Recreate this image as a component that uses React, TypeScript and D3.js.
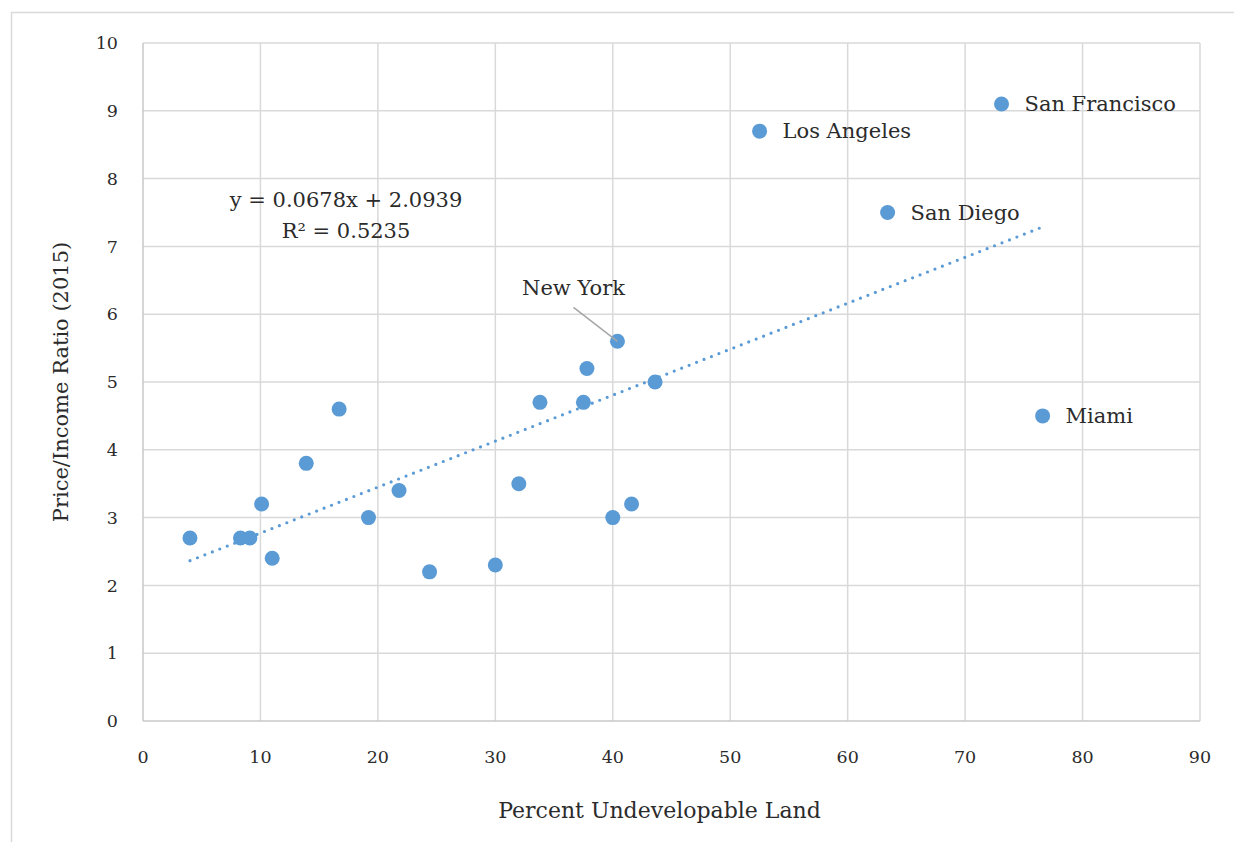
import { useEffect, useRef } from "react";
import * as d3 from "d3";

const W = 1234;
const H = 842;

// Percent undevelopable land vs price/income ratio (2015)
const xValues = [4.0, 8.3, 9.1, 10.1, 11.0, 13.9, 16.7, 19.2, 21.8, 24.4, 30.0, 32.0, 33.8, 37.5, 37.8, 40.4, 40.0, 41.6, 43.6, 52.5, 63.4, 73.1, 76.6];
const yValues = [2.7, 2.7, 2.7, 3.2, 2.4, 3.8, 4.6, 3.0, 3.4, 2.2, 2.3, 3.5, 4.7, 4.7, 5.2, 5.6, 3.0, 3.2, 5.0, 8.7, 7.5, 9.1, 4.5];
const pointLabels = ["", "", "", "", "", "", "", "", "", "", "", "", "", "", "", "New York", "", "", "", "Los Angeles", "San Diego", "San Francisco", "Miami"];

const xTicks = [0, 10, 20, 30, 40, 50, 60, 70, 80, 90];
const yTicks = [0, 1, 2, 3, 4, 5, 6, 7, 8, 9, 10];

const slope = 0.0678;
const intercept = 2.0939;
const equationText = "y = 0.0678x + 2.0939";
const r2Text = "R² = 0.5235";

const xTitle = "Percent Undevelopable Land";
const yTitle = "Price/Income Ratio (2015)";

const FONT = "'DejaVu Serif', 'Liberation Serif', serif";
const BLUE = "#5b9bd5";
const TEXT = "#2b2b2b";

export default function App() {
  const svgRef = useRef<SVGSVGElement | null>(null);

  useEffect(() => {
    if (!svgRef.current) return;
    const svg = d3.select(svgRef.current);
    svg.selectAll("*").remove();

    const margin = { left: 143, right: W - 1200, top: 43, bottom: H - 721 };
    const x = d3.scaleLinear().domain([0, 90]).range([margin.left, W - margin.right]);
    const y = d3.scaleLinear().domain([0, 10]).range([H - margin.bottom, margin.top]);

    svg.append("rect").attr("width", W).attr("height", H).attr("fill", "#fff");

    // outer chart frame
    svg
      .append("rect")
      .attr("x", 11.5)
      .attr("y", 12.5)
      .attr("width", 1400)
      .attr("height", 1000)
      .attr("fill", "none")
      .attr("stroke", "#d9d9d9")
      .attr("stroke-width", 1.5);

    // gridlines
    const grid = svg.append("g").attr("stroke", "#d9d9d9").attr("stroke-width", 1.5);
    xTicks.slice(1).forEach((t) => {
      grid.append("line").attr("x1", x(t)).attr("x2", x(t)).attr("y1", y(0)).attr("y2", y(10));
    });
    yTicks.slice(1).forEach((t) => {
      grid.append("line").attr("x1", x(0)).attr("x2", x(90)).attr("y1", y(t)).attr("y2", y(t));
    });

    // axis lines
    svg.append("line").attr("x1", x(0)).attr("x2", x(0)).attr("y1", y(0)).attr("y2", y(10))
      .attr("stroke", "#c8c8c8").attr("stroke-width", 1.5);
    svg.append("line").attr("x1", x(0)).attr("x2", x(90)).attr("y1", y(0)).attr("y2", y(0))
      .attr("stroke", "#c8c8c8").attr("stroke-width", 1.5);

    // tick labels
    svg.append("g").selectAll("text").data(yTicks).join("text")
      .attr("x", 118).attr("y", (d) => y(d)).attr("dy", "0.35em")
      .attr("text-anchor", "end").attr("font-family", FONT).attr("font-size", 17.5)
      .attr("fill", TEXT).text((d) => String(d));

    svg.append("g").selectAll("text").data(xTicks).join("text")
      .attr("x", (d) => x(d)).attr("y", 763)
      .attr("text-anchor", "middle").attr("font-family", FONT).attr("font-size", 17.5)
      .attr("fill", TEXT).text((d) => String(d));

    // axis titles
    svg.append("text").attr("x", x(45) - 12).attr("y", 818).attr("text-anchor", "middle")
      .attr("font-family", FONT).attr("font-size", 22).attr("fill", TEXT).text(xTitle);
    svg.append("text")
      .attr("transform", `translate(68,${(y(0) + y(10)) / 2}) rotate(-90)`)
      .attr("text-anchor", "middle").attr("font-family", FONT).attr("font-size", 21)
      .attr("fill", TEXT).text(yTitle);

    // trendline
    const xMin = d3.min(xValues) as number;
    const xMax = d3.max(xValues) as number;
    svg.append("line")
      .attr("x1", x(xMin)).attr("y1", y(slope * xMin + intercept))
      .attr("x2", x(xMax)).attr("y2", y(slope * xMax + intercept))
      .attr("stroke", BLUE).attr("stroke-width", 3.2)
      .attr("stroke-linecap", "round").attr("stroke-dasharray", "0 8");

    // points
    const data = xValues.map((v, i) => ({ x: v, y: yValues[i], label: pointLabels[i] }));
    svg.append("g").selectAll("circle").data(data).join("circle")
      .attr("cx", (d) => x(d.x)).attr("cy", (d) => y(d.y)).attr("r", 7.5).attr("fill", BLUE);

    // New York leader + label
    const ny = data.find((d) => d.label === "New York")!;
    svg.append("line")
      .attr("x1", x(ny.x) - 44).attr("y1", y(ny.y) - 34)
      .attr("x2", x(ny.x)).attr("y2", y(ny.y))
      .attr("stroke", "#a6a6a6").attr("stroke-width", 1.5);
    svg.append("text").attr("x", x(ny.x) - 44).attr("y", y(ny.y) - 46)
      .attr("text-anchor", "middle").attr("font-family", FONT).attr("font-size", 21)
      .attr("fill", TEXT).text(ny.label);

    // right-side labels
    svg.append("g").selectAll("text")
      .data(data.filter((d) => d.label && d.label !== "New York"))
      .join("text")
      .attr("x", (d) => x(d.x) + 23).attr("y", (d) => y(d.y)).attr("dy", "0.35em")
      .attr("font-family", FONT).attr("font-size", 21).attr("fill", TEXT)
      .text((d) => d.label);

    // equation
    svg.append("text").attr("x", 346).attr("y", 207).attr("text-anchor", "middle")
      .attr("font-family", FONT).attr("font-size", 21).attr("fill", TEXT).text(equationText);
    svg.append("text").attr("x", 346).attr("y", 238).attr("text-anchor", "middle")
      .attr("font-family", FONT).attr("font-size", 21).attr("fill", TEXT).text(r2Text);
  }, []);

  return (
    <svg
      ref={svgRef}
      width={W}
      height={H}
      style={{ position: "absolute", left: 0, top: 0, display: "block" }}
    />
  );
}
